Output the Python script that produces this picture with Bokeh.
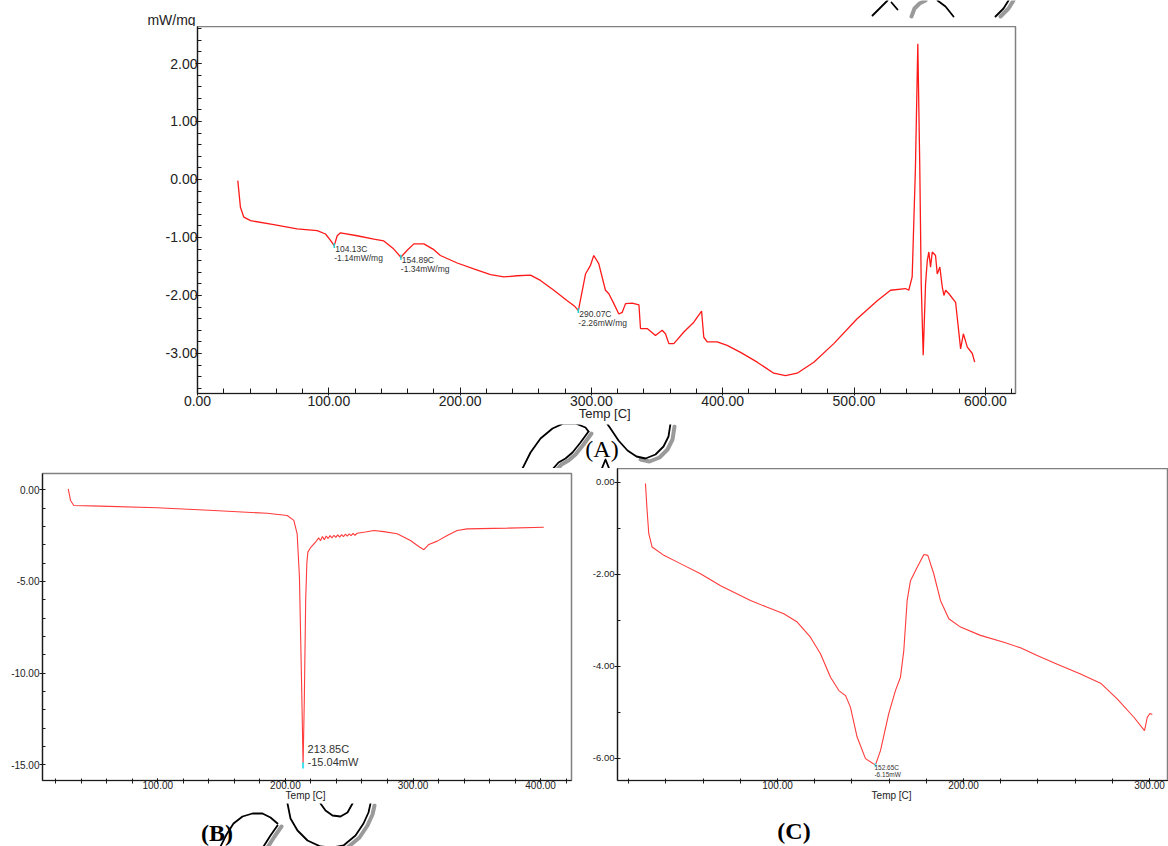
from bokeh.plotting import figure
from bokeh.models import Range1d, SingleIntervalTicker, NumeralTickFormatter, Label
from bokeh.layouts import column, row
from bokeh.core.properties import value
from bokeh.embed import file_html
from bokeh.resources import INLINE

# ---------------- DATA ----------------
# Panel (A): DSC curve, mW/mg vs Temp [C]
A_temp = [30.7, 32.7, 35.3, 40.4, 58.1, 75.9, 91.2, 97.5, 101.3, 104.13,
          106.4, 108.9, 121.6, 134.3, 141.9, 149.5, 154.89, 159.7, 164.8, 172.4,
          180.0, 185.0, 197.8, 210.4, 223.2, 233.3, 243.5, 253.6, 261.2, 271.4,
          281.6, 287.0, 290.07, 295.5, 299.3, 301.8, 305.6, 310.7, 313.3, 317.1,
          320.9, 323.5, 326.0, 331.1, 336.2, 337.4, 342.5, 348.8, 353.9, 356.4,
          359.0, 362.8, 370.4, 378.0, 383.9, 385.6, 388.2, 395.8, 403.4, 413.6,
          426.3, 438.9, 447.8, 456.7, 469.4, 484.6, 502.4, 517.7, 527.8, 539.2,
          541.7, 544.3, 546.8, 548.6, 550.1, 551.2, 552.7, 554.5, 555.8, 557.0,
          558.3, 559.6, 562.1, 563.4, 565.4, 567.2, 568.5, 569.8, 572.3, 577.4,
          581.2, 583.3, 586.3, 590.1, 591.9]
A_signal = [-0.02, -0.48, -0.65, -0.71, -0.78, -0.85, -0.88, -0.94, -1.05, -1.14,
            -0.97, -0.92, -0.97, -1.03, -1.06, -1.20, -1.34, -1.22, -1.11, -1.11,
            -1.21, -1.31, -1.44, -1.54, -1.64, -1.68, -1.66, -1.65, -1.74, -1.91,
            -2.09, -2.18, -2.26, -1.63, -1.48, -1.31, -1.45, -1.91, -1.97, -2.14,
            -2.32, -2.29, -2.14, -2.13, -2.16, -2.57, -2.57, -2.69, -2.60, -2.66,
            -2.83, -2.83, -2.63, -2.46, -2.27, -2.72, -2.80, -2.80, -2.86, -2.98,
            -3.15, -3.34, -3.38, -3.34, -3.15, -2.83, -2.40, -2.09, -1.91, -1.88,
            -1.91, -1.68, 0.21, 2.34, 0.21, -1.80, -3.03, -1.80, -1.40, -1.25,
            -1.51, -1.25, -1.31, -1.63, -1.51, -1.85, -2.00, -1.91, -1.97, -2.12,
            -2.92, -2.66, -2.89, -3.00, -3.15]
A_peak_temp = [104.13, 154.89, 290.07]
A_peak_val = [-1.14, -1.34, -2.26]
A_peak_text1 = ["104.13C", "154.89C", "290.07C"]
A_peak_text2 = ["-1.14mW/mg", "-1.34mW/mg", "-2.26mW/mg"]

# Panel (B): mW vs Temp [C]
B_temp = [29.8, 31.6, 34.2, 55.1, 99.5, 143.9, 185.7, 201.4, 206.6, 209.2,
          211.0, 212.8, 213.85, 214.8, 215.9, 216.8, 217.6, 219.7, 223.6, 226.0,
          227.5, 229.0, 230.5, 232.0, 233.5, 235.0, 236.5, 238.0, 239.5, 241.0,
          242.5, 244.0, 245.5, 247.0, 248.5, 250.0, 251.5, 253.0, 254.5, 256.2,
          262.7, 269.3, 277.1, 287.6, 298.0, 304.5, 308.5, 312.4, 319.0, 326.8,
          334.6, 342.5, 373.8, 402.5]
B_signal = [0.05, -0.58, -0.86, -0.89, -0.98, -1.13, -1.28, -1.40, -1.67, -2.40,
            -4.77, -11.0, -15.04, -11.5, -6.0, -4.0, -3.40, -3.16, -2.86, -2.62,
            -2.78, -2.55, -2.72, -2.52, -2.66, -2.50, -2.62, -2.48, -2.60, -2.46,
            -2.58, -2.45, -2.56, -2.42, -2.53, -2.40, -2.50, -2.38, -2.48, -2.37,
            -2.30, -2.22, -2.28, -2.40, -2.77, -3.09, -3.27, -2.98, -2.80, -2.49,
            -2.22, -2.13, -2.09, -2.04]
B_peak_temp = [213.85]
B_peak_val = [-15.04]

# Panel (C): mW vs Temp [C]
C_temp = [29.0, 29.9, 30.8, 32.6, 38.9, 47.8, 58.6, 69.4, 85.5, 94.5,
          103.4, 110.6, 117.7, 123.1, 128.5, 133.0, 136.6, 139.2, 142.8, 147.3,
          152.65, 155.4, 159.8, 163.4, 166.1, 167.9, 169.7, 171.5, 175.1, 178.7,
          180.8, 184.0, 187.6, 192.1, 198.4, 209.1, 221.7, 230.6, 239.6, 250.4,
          262.9, 273.7, 282.6, 291.6, 297.3, 298.8, 300.2, 301.5]
C_signal = [-0.03, -0.62, -1.12, -1.41, -1.59, -1.77, -1.99, -2.25, -2.57, -2.72,
            -2.86, -3.04, -3.37, -3.73, -4.24, -4.53, -4.64, -4.89, -5.54, -6.01,
            -6.15, -5.83, -5.03, -4.53, -4.24, -3.66, -2.57, -2.14, -1.85, -1.57,
            -1.59, -1.99, -2.57, -2.97, -3.15, -3.33, -3.48, -3.60, -3.77, -3.96,
            -4.17, -4.37, -4.71, -5.11, -5.40, -5.11, -5.03, -5.05]
C_peak_temp = [152.65]
C_peak_val = [-6.15]

SANS = "Liberation Sans"
SERIF = "Liberation Serif"
TXT = "#222222"


def base_fig(width, height, xr, yr, mb_left, mb_right, mb_top, mb_bottom):
    p = figure(width=width, height=height, x_range=Range1d(*xr), y_range=Range1d(*yr),
               output_backend="svg", toolbar_location=None,
               min_border_left=mb_left, min_border_right=mb_right,
               min_border_top=mb_top, min_border_bottom=mb_bottom)
    p.xgrid.visible = False
    p.ygrid.visible = False
    p.outline_line_color = "#808080"
    p.outline_line_width = 1.5
    p.background_fill_color = "white"
    p.border_fill_color = "white"
    for ax in (p.xaxis[0], p.yaxis[0]):
        ax.axis_line_color = "#1a1a1a"
        ax.axis_line_width = 1.2
        ax.major_tick_line_color = "#1a1a1a"
        ax.minor_tick_line_color = "#1a1a1a"
        ax.major_label_text_color = TXT
        ax.major_label_text_font = SANS
        ax.axis_label_text_font = SANS
        ax.axis_label_text_font_style = "normal"
        ax.axis_label_text_color = TXT
        ax.formatter = NumeralTickFormatter(format="0.00")
    return p


def strip_fig(width, height, x0, y0):
    # a plain drawing area whose coordinates are the page pixels it covers
    s = figure(width=width, height=height, x_range=Range1d(x0, x0 + width),
               y_range=Range1d(y0 + height, y0), x_axis_type=None, y_axis_type=None,
               output_backend="svg", toolbar_location=None,
               min_border_left=0, min_border_right=0, min_border_top=0,
               min_border_bottom=0)
    s.outline_line_color = None
    s.xgrid.visible = False
    s.ygrid.visible = False
    s.background_fill_color = "white"
    s.border_fill_color = "white"
    return s


def stroke(s, pts, color="black", width=1.8, dx=0, dy=0):
    s.line([x + dx for x, y in pts], [y + dy for x, y in pts], line_color=color,
           line_width=width, line_cap="round", line_join="round")


# ---------------- TOP STRIP (y unit label + fragments) ----------------
sTop = strip_fig(1168, 26, 0, 0)
sTop.text(x=[171], y=[19], text=["mW/mg"], text_align="center",
          text_baseline="middle", text_font=value(SANS), text_font_size="14px",
          text_color=TXT)
stroke(sTop, [(911, 16), (914, 8), (919, 3), (925, 0)], "#9a9a9a", 4)
stroke(sTop, [(1000, 16), (1008, 8), (1013, 0)], "#9a9a9a", 4)
stroke(sTop, [(872, 15), (887, 0)])
stroke(sTop, [(891, 2), (897, 9)])
stroke(sTop, [(937, 0), (945, 6), (953, 16)])
stroke(sTop, [(995, 16), (1003, 8), (1008, 0)])

# ---------------- PANEL A ----------------
A_xr = (0, 623.0)
A_yr = (-3.69, 2.638)
pA = base_fig(1168, 398, A_xr, A_yr, 197, 153, 0, 31)
pA.xaxis.ticker = SingleIntervalTicker(interval=100, num_minor_ticks=5)
pA.yaxis.ticker = SingleIntervalTicker(interval=1, num_minor_ticks=5)
pA.axis.major_label_text_font_size = "14px"
pA.xaxis.major_tick_in = 6
pA.xaxis.major_tick_out = 2
pA.xaxis.minor_tick_in = 5
pA.xaxis.minor_tick_out = 0
pA.yaxis.major_tick_in = 4
pA.yaxis.major_tick_out = 2
pA.yaxis.minor_tick_in = 4
pA.yaxis.minor_tick_out = 0
pA.xaxis.major_label_standoff = 0
pA.yaxis.major_label_standoff = -2
pA.xaxis.axis_label = "Temp  [C]"
pA.xaxis.axis_label_text_font_size = "13px"
pA.xaxis.axis_label_standoff = -3
pA.line(A_temp, A_signal, line_color="#ff1a1a", line_width=1.3)
pA.scatter(A_peak_temp, A_peak_val, marker="dash", angle=1.5708, size=5,
           line_color="#1ccfd6", line_width=1.5)
for t, v, s1, s2 in zip(A_peak_temp, A_peak_val, A_peak_text1, A_peak_text2):
    pA.add_layout(Label(x=t, y=v, text=s1, x_offset=1, y_offset=-3,
                        text_baseline="middle", text_font=SANS,
                        text_font_size="8.5px", text_color="#333333"))
    pA.add_layout(Label(x=t, y=v, text=s2, x_offset=0, y_offset=-12,
                        text_baseline="middle", text_font=SANS,
                        text_font_size="8.5px", text_color="#333333"))

# ---------------- STRIP UNDER A: "(A)" and fragments ----------------
sA = strip_fig(1168, 44, 0, 424)
sA.text(x=[601.5], y=[448], text=["(A)"], text_align="center",
        text_baseline="middle", text_font=value(SERIF), text_font_size="24px",
        text_color="black")
hook = [(522, 468), (530, 452), (540, 438), (552, 428), (563, 423), (575, 423),
        (585, 427), (588, 431)]
hook_down = [(588, 431), (580, 442), (572, 452), (565, 458), (558, 462), (551, 470)]
swoosh = [(603, 418), (610, 428), (618, 440), (627, 450), (636, 456), (645, 458),
          (655, 454), (663, 446), (668, 436), (670, 423)]
stroke(sA, hook_down, "#9a9a9a", 4, 3, 2)
stroke(sA, swoosh[4:], "#9a9a9a", 4, 4, 3)
stroke(sA, hook)
stroke(sA, hook_down)
stroke(sA, swoosh)
stroke(sA, [(601, 469), (605, 459), (609, 469)])

# ---------------- PANEL B ----------------
B_xr = (9.64, 424.2)
B_yr = (-15.86, 0.889)
pB = base_fig(580, 335, B_xr, B_yr, 42, 9, 5, 23)
pB.xaxis.ticker = SingleIntervalTicker(interval=100, num_minor_ticks=5)
pB.yaxis.ticker = SingleIntervalTicker(interval=5, num_minor_ticks=5)
pB.axis.major_label_text_font_size = "10px"
pB.axis.major_tick_in = 2
pB.axis.major_tick_out = 3
pB.axis.minor_tick_in = 2
pB.axis.minor_tick_out = 3
pB.yaxis.minor_tick_out = 0
pB.yaxis.minor_tick_in = 3
pB.xaxis.major_label_standoff = -3
pB.yaxis.major_label_standoff = 0
pB.xaxis.axis_label = "Temp  [C]"
pB.xaxis.axis_label_text_font_size = "10px"
pB.xaxis.axis_label_standoff = -2
pB.line(B_temp, B_signal, line_color="#ff3b3b", line_width=1.1)
pB.scatter(B_peak_temp, B_peak_val, marker="dash", angle=1.5708, size=6,
           line_color="#3fe0f0", line_width=2)
pB.add_layout(Label(x=B_peak_temp[0], y=B_peak_val[0], text="213.85C", x_offset=4.5,
                    y_offset=16.7, text_baseline="middle", text_font=SANS,
                    text_font_size="11px", text_color="#333333"))
pB.add_layout(Label(x=B_peak_temp[0], y=B_peak_val[0], text="-15.04mW", x_offset=4.5,
                    y_offset=3.3, text_baseline="middle", text_font=SANS,
                    text_font_size="11px", text_color="#333333"))

sB = strip_fig(580, 43, 0, 803)
sB.text(x=[216.5], y=[832], text=["(B)"], text_align="center",
        text_baseline="middle", text_font=value(SERIF), text_font_style="bold",
        text_font_size="24px", text_color="black")
b1 = [(220, 846), (226, 834), (233, 823), (242, 816), (252, 813), (262, 813),
      (270, 817), (277, 823)]
b1d = [(277, 825), (270, 835), (263, 846)]
b2 = [(287, 803), (290, 818), (297, 830), (307, 840), (320, 846), (332, 847),
      (343, 845), (355, 835), (363, 823), (368, 812), (370, 803)]
b3 = [(320, 803), (325, 810), (332, 815), (340, 816), (347, 812), (352, 803)]
stroke(sB, b1d, "#9a9a9a", 4, 4, 1)
stroke(sB, b2[5:], "#9a9a9a", 4, 4, 2)
stroke(sB, b1)
stroke(sB, b1d)
stroke(sB, b2)
stroke(sB, b3)

# ---------------- PANEL C ----------------
C_xr = (13.98, 310.2)
C_yr = (-6.485, 0.298)
pC = base_fig(588, 335, C_xr, C_yr, 37, 0, 0, 23)
pC.xaxis.ticker = SingleIntervalTicker(interval=100, num_minor_ticks=5)
pC.yaxis.ticker = SingleIntervalTicker(interval=2, num_minor_ticks=2)
pC.xaxis.major_label_text_font_size = "10px"
pC.yaxis.major_label_text_font_size = "9.5px"
pC.axis.major_tick_in = 2
pC.axis.major_tick_out = 3
pC.axis.minor_tick_in = 2
pC.axis.minor_tick_out = 3
pC.yaxis.minor_tick_out = 0
pC.yaxis.minor_tick_in = 3
pC.xaxis.major_label_standoff = -3
pC.yaxis.major_label_standoff = 0
pC.xaxis.axis_label = "Temp  [C]"
pC.xaxis.axis_label_text_font_size = "10px"
pC.xaxis.axis_label_standoff = -2
pC.line(C_temp, C_signal, line_color="#ff3b3b", line_width=1.1)
pC.scatter(C_peak_temp, C_peak_val, marker="dash", angle=1.5708, size=4,
           line_color="#3fe0f0", line_width=1.5)
pC.add_layout(Label(x=C_peak_temp[0], y=C_peak_val[0], text="152.65C", x_offset=-1,
                    y_offset=-2, text_baseline="middle", text_font=SANS,
                    text_font_size="6.5px", text_color="#333333"))
pC.add_layout(Label(x=C_peak_temp[0], y=C_peak_val[0], text="-6.15mW", x_offset=-1,
                    y_offset=-9.4, text_baseline="middle", text_font=SANS,
                    text_font_size="6.5px", text_color="#333333"))

sC = strip_fig(588, 43, 580, 803)
sC.text(x=[793.5], y=[830], text=["(C)"], text_align="center",
        text_baseline="middle", text_font=value(SERIF), text_font_style="bold",
        text_font_size="24px", text_color="black")

# strips are wrapped in their own rows so that they are not frame-aligned
layout = column(row(sTop), pA, row(sA),
                row(column(pB, row(sB), spacing=0), column(pC, row(sC), spacing=0),
                    spacing=0),
                spacing=0)
open("out.html", "w").write(file_html(layout, INLINE))
